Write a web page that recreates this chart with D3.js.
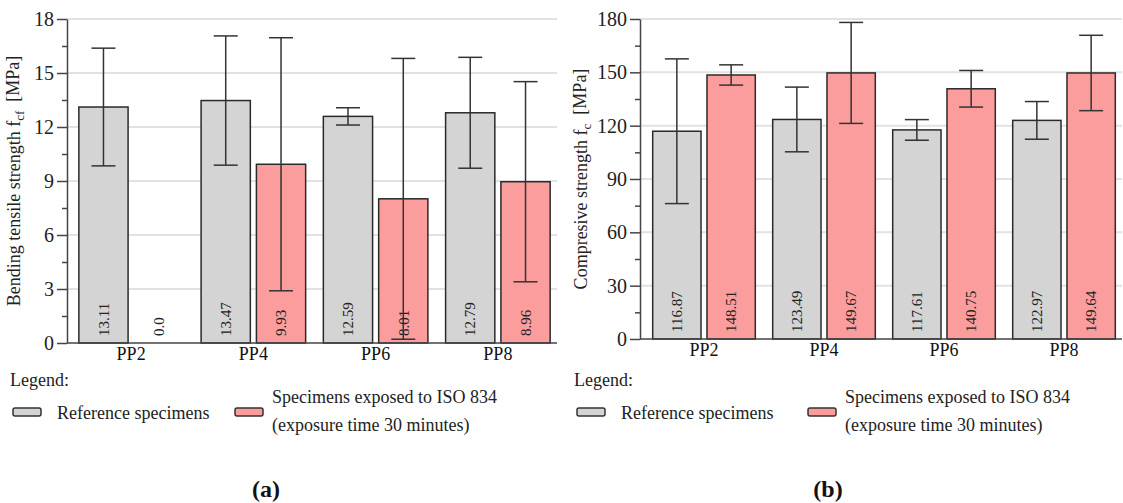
<!DOCTYPE html>
<html>
<head>
<meta charset="utf-8">
<script src="https://cdn.jsdelivr.net/npm/d3@7"></script>
<style>
  body { margin: 0; background: #fff; }
</style>
</head>
<body>
<svg id="chart" width="1123" height="503"></svg>
<script>
// data
var categories = ["PP2", "PP4", "PP6", "PP8"];
var seriesNames = ["Reference specimens", "Specimens exposed to ISO 834", "(exposure time 30 minutes)"];

var bendRef = [13.11, 13.47, 12.59, 12.79];
var bendRefErr = [3.27, 3.59, 0.48, 3.08];
var bendFire = [0.0, 9.93, 8.01, 8.96];
var bendFireErr = [0, 7.03, 7.8, 5.56];

var compRef = [116.87, 123.49, 117.61, 122.97];
var compRefErr = [40.7, 18.2, 5.8, 10.6];
var compFire = [148.51, 149.67, 140.75, 149.64];
var compFireErr = [5.7, 28.4, 10.3, 21.2];

var bendTicks = [0, 3, 6, 9, 12, 15, 18];
var compTicks = [0, 30, 60, 90, 120, 150, 180];

var colors = ["#d4d4d4", "#fc9d9d"];

var svg = d3.select("#chart");
svg.append("rect").attr("width", 1123).attr("height", 503).attr("fill", "#fff");

function drawPanel(opt) {
  var width = opt.width, height = opt.height;
  var g = svg.append("g")
    .attr("transform", `translate(${opt.left}, ${opt.top})`);

  var y = d3.scaleLinear().domain([0, opt.ticks[opt.ticks.length - 1]]).range([height, 0]);
  var x0 = d3.scaleBand().domain(categories).range(opt.bandRange);
  var x1 = d3.scaleBand().domain([0, 1]).range([0, x0.bandwidth()])
    .paddingInner(0.11).paddingOuter(0.16);

  // gridlines
  g.selectAll(".grid").data(opt.ticks.slice(1)).enter()
    .append("line")
    .attr("x1", 0).attr("x2", width)
    .attr("y1", d => y(d)).attr("y2", d => y(d))
    .attr("stroke", "#e2e2e2").attr("stroke-width", 2);

  var rows = [];
  categories.forEach((c, i) => {
    rows.push({cat: c, s: 0, v: opt.ref[i], e: opt.refErr[i]});
    rows.push({cat: c, s: 1, v: opt.fire[i], e: opt.fireErr[i]});
  });

  // bars
  g.selectAll(".bar").data(rows.filter(d => d.v > 0)).enter()
    .append("rect")
    .attr("x", d => x0(d.cat) + x1(d.s))
    .attr("y", d => y(d.v))
    .attr("width", x1.bandwidth())
    .attr("height", d => height - y(d.v))
    .attr("fill", d => colors[d.s])
    .attr("stroke", "#2a2a2a").attr("stroke-width", 1.5);

  // value labels
  g.selectAll(".lab").data(rows).enter()
    .append("text")
    .attr("transform", d => `translate(${x0(d.cat) + x1(d.s) + x1.bandwidth() / 2}, ${height - 7}) rotate(-90)`)
    .attr("dy", "0.35em")
    .attr("font-size", 15)
    .attr("fill", "#222")
    .text(d => d.v.toFixed(d.v === 0 ? 1 : 2));

  // error bars
  var eb = g.selectAll(".err").data(rows.filter(d => d.e > 0)).enter().append("g")
    .attr("stroke", "#333").attr("stroke-width", 1.5);
  eb.append("line")
    .attr("x1", d => x0(d.cat) + x1(d.s) + x1.bandwidth() / 2)
    .attr("x2", d => x0(d.cat) + x1(d.s) + x1.bandwidth() / 2)
    .attr("y1", d => y(d.v + d.e)).attr("y2", d => y(d.v - d.e));
  [1, -1].forEach(sign => {
    eb.append("line")
      .attr("x1", d => x0(d.cat) + x1(d.s) + x1.bandwidth() / 2 - 12)
      .attr("x2", d => x0(d.cat) + x1(d.s) + x1.bandwidth() / 2 + 12)
      .attr("y1", d => y(d.v + sign * d.e)).attr("y2", d => y(d.v + sign * d.e));
  });

  // y axis with minor ticks
  var step = opt.ticks[1] - opt.ticks[0];
  var minor = opt.ticks.slice(0, -1).map(t => t + step / 2);
  g.append("g")
    .call(d3.axisLeft(y).tickValues(minor).tickSize(5).tickFormat(""))
    .call(a => a.select(".domain").remove())
    .selectAll("line").attr("stroke", "#444").attr("stroke-width", 1.5);
  var ya = g.append("g")
    .call(d3.axisLeft(y).tickValues(opt.ticks).tickSize(10).tickSizeOuter(0).tickPadding(3));
  ya.select(".domain").attr("stroke", "#444").attr("stroke-width", 1.5);
  ya.selectAll("line").attr("stroke", "#444").attr("stroke-width", 1.5);
  ya.selectAll("text").attr("fill", "#222").style("font-size", "20px");

  // x axis
  var xa = g.append("g")
    .attr("transform", `translate(0, ${height})`)
    .call(d3.axisBottom(x0).tickSize(0).tickSizeOuter(0).tickPadding(4));
  xa.select(".domain").attr("d", `M0,0H${width}`).attr("stroke", "#444").attr("stroke-width", 1.5);
  xa.selectAll("text").attr("fill", "#111").style("font-size", "18px");

  // y axis title
  var t = g.append("text")
    .attr("transform", `translate(${opt.titleX}, ${height / 2}) rotate(-90)`)
    .attr("text-anchor", "middle")
    .attr("font-size", 18)
    .attr("fill", "#222");
  t.append("tspan").text(opt.title[0]);
  t.append("tspan").attr("font-size", 13).attr("dy", "0.3em").text(opt.title[1]);
  t.append("tspan").attr("dy", "-0.3em").text("\u00a0 [MPa]");

  // legend
  var lg = svg.append("g").attr("font-size", 18).attr("fill", "#222");
  lg.append("text").attr("x", opt.legX).attr("y", 386).text("Legend:");
  lg.append("rect").attr("x", opt.legX + 3).attr("y", 408).attr("width", 28).attr("height", 8)
    .attr("rx", 2).attr("fill", colors[0]).attr("stroke", "#333").attr("stroke-width", 1.5);
  lg.append("text").attr("x", opt.legX + 47).attr("y", 419).text(seriesNames[0]);
  lg.append("rect").attr("x", opt.legX + opt.leg2).attr("y", 408).attr("width", 28).attr("height", 8)
    .attr("rx", 2).attr("fill", colors[1]).attr("stroke", "#333").attr("stroke-width", 1.5);
  lg.append("text").attr("x", opt.legX + opt.leg2 + 37).attr("y", 403).text(seriesNames[1]);
  lg.append("text").attr("x", opt.legX + opt.leg2 + 37).attr("y", 431).text(seriesNames[2]);

  svg.append("text")
    .attr("x", opt.capX).attr("y", 497)
    .attr("text-anchor", "middle")
    .attr("font-size", 24).attr("font-weight", "bold").attr("fill", "#111")
    .text(opt.caption);
}

drawPanel({
  left: 67, top: 19, width: 490, height: 324, bandRange: [3, 492],
  ticks: bendTicks, ref: bendRef, refErr: bendRefErr, fire: bendFire, fireErr: bendFireErr,
  title: ["Bending tensile strength f", "cf"], titleX: -47,
  legX: 10, leg2: 225, capX: 266, caption: "(a)"
});

drawPanel({
  left: 640, top: 19, width: 482, height: 320, bandRange: [4, 484],
  ticks: compTicks, ref: compRef, refErr: compRefErr, fire: compFire, fireErr: compFireErr,
  title: ["Compresive strength f", "c"], titleX: -53,
  legX: 574, leg2: 234, capX: 828, caption: "(b)"
});

svg.selectAll("text").style("font-family", "Liberation Serif");
</script>
</body>
</html>
